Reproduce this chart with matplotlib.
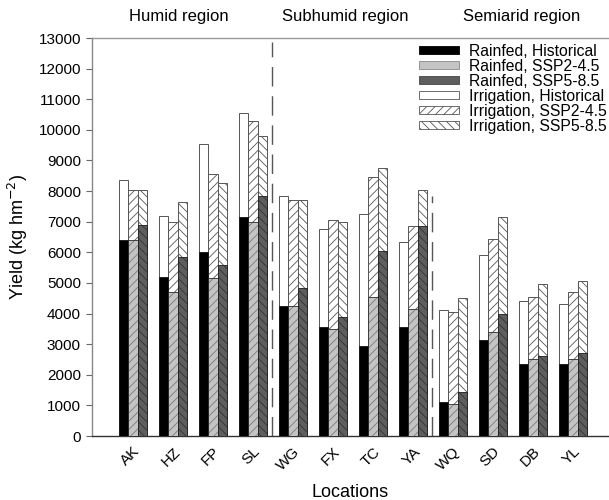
import matplotlib
matplotlib.use("Agg")
import matplotlib.pyplot as plt
import matplotlib.transforms as mtransforms
from matplotlib.patches import Patch
import numpy as np

plt.rcParams['font.family'] = ['Liberation Sans', 'DejaVu Sans']
plt.rcParams['hatch.linewidth'] = 0.6

locations = ["AK", "HZ", "FP", "SL", "WG", "FX", "TC", "YA", "WQ", "SD", "DB", "YL"]
regions = ["Humid region", "Subhumid region", "Semiarid region"]

rainfed_hist = [6400, 5200, 6000, 7150, 4250, 3550, 2950, 3550, 1100, 3150, 2350, 2350]
rainfed_ssp245 = [6400, 4700, 5150, 7000, 4250, 3500, 4550, 4150, 1050, 3400, 2500, 2500]
rainfed_ssp585 = [6900, 5850, 5600, 7850, 4850, 3900, 6050, 6850, 1450, 4000, 2600, 2700]
irr_hist = [8350, 7200, 9550, 10550, 7850, 6750, 7250, 6350, 4100, 5900, 4400, 4300]
irr_ssp245 = [8050, 7000, 8550, 10300, 7700, 7050, 8450, 6850, 4050, 6450, 4550, 4700]
irr_ssp585 = [8050, 7650, 8250, 9800, 7700, 7000, 8750, 8050, 4500, 7150, 4950, 5050]

fig = plt.figure(figsize=(6.09, 5.0), dpi=100)
ax = fig.add_axes([92/609, 64/500, 1 - 92/609, (436-38)/500])

x = np.arange(len(locations))
w = 0.232
offs = [-w, 0, w]

irr = [irr_hist, irr_ssp245, irr_ssp585]
rf = [rainfed_hist, rainfed_ssp245, rainfed_ssp585]
irr_hatch = [None, '////', '\\\\\\\\']
rf_face = ['black', '#c4c4c4', '#5e5e5e']
rf_hatchcol = ['black', '#7a7a7a', '#333333']

for k in range(3):
    ax.bar(x + offs[k], irr[k], width=w, facecolor='white', edgecolor='#555555',
           hatch=irr_hatch[k], linewidth=0.7, zorder=2)
    ax.bar(x + offs[k], rf[k], width=w, facecolor=rf_face[k], edgecolor=rf_hatchcol[k],
           hatch=irr_hatch[k], linewidth=0.5, zorder=3)
    ax.bar(x + offs[k], rf[k], width=w, facecolor='none', edgecolor='#222222',
           linewidth=0.5, zorder=4)

# region separators
ax.axvline(3.47, ymin=0, ymax=0.99, color='#555555', linestyle=(0, (14, 7)), linewidth=1.0, zorder=1)
ax.axvline(7.47, ymin=0, ymax=0.603, color='#555555', linestyle=(0, (14, 7)), linewidth=1.0, zorder=1)

ax.set_xlim(-1.025, 11.9)
ax.set_ylim(0, 13000)
ax.set_yticks(np.arange(0, 13001, 1000))
ax.set_xticks(x)
ax.set_xticklabels(locations, rotation=45, ha='right', rotation_mode='anchor', fontsize=11)
ax.tick_params(axis='x', length=0, pad=6)
ax.tick_params(axis='y', direction='out', length=4, color='#666666', labelsize=11, pad=4)

ax.spines['right'].set_visible(False)
ax.spines['top'].set_color('#999999')
ax.spines['left'].set_color('#888888')
ax.spines['bottom'].set_color('#333333')
for s in ax.spines.values():
    s.set_linewidth(1.0)

ax.set_xlabel("Locations", fontsize=13, labelpad=8)
ax.set_ylabel("Yield (kg hm$^{-2}$)", fontsize=13, labelpad=6)

trans = mtransforms.blended_transform_factory(ax.transData, ax.transAxes)
region_x = [1.15, 5.3, 9.72]
for rx, name in zip(region_x, regions):
    ax.text(rx, 1.053, name, transform=trans, ha='center', va='center', fontsize=12)

handles = [
    Patch(facecolor='black', edgecolor='black', linewidth=0.6),
    Patch(facecolor='#c4c4c4', edgecolor='#888888', linewidth=0.6),
    Patch(facecolor='#5e5e5e', edgecolor='#444444', linewidth=0.6),
    Patch(facecolor='white', edgecolor='#555555', linewidth=0.6),
    Patch(facecolor='white', edgecolor='#555555', hatch='////', linewidth=0.6),
    Patch(facecolor='white', edgecolor='#555555', hatch='\\\\\\\\', linewidth=0.6),
]
labels = ["Rainfed, Historical", "Rainfed, SSP2-4.5", "Rainfed, SSP5-8.5",
          "Irrigation, Historical", "Irrigation, SSP2-4.5", "Irrigation, SSP5-8.5"]
leg = ax.legend(handles, labels, loc='upper right', bbox_to_anchor=(1.0, 0.992),
                frameon=True, fontsize=11.3, handlelength=2.6, handleheight=0.42,
                labelspacing=0.0, handletextpad=0.6, borderpad=0.15, borderaxespad=0.0)
leg.get_frame().set_edgecolor('none')
leg.get_frame().set_facecolor('white')
leg.get_frame().set_alpha(1.0)
leg.set_zorder(5)

fig.savefig("out.png", dpi=100)
